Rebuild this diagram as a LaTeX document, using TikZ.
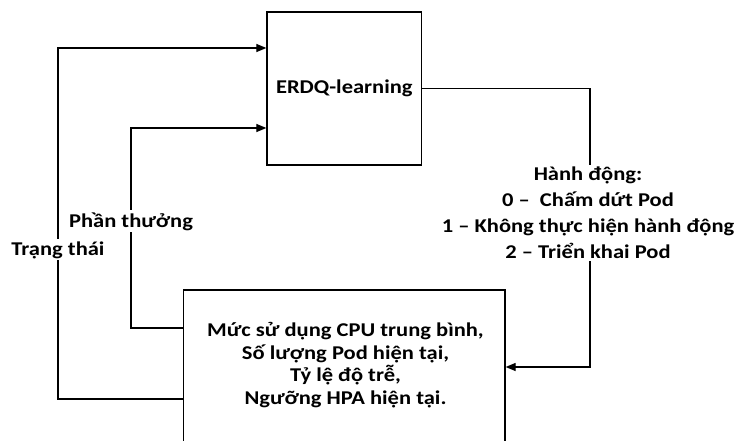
\documentclass[tikz,border=0pt]{standalone}
\usepackage{fontspec}
\setmainfont{Carlito}[FakeStretch=1.155]
\usetikzlibrary{arrows.meta}
\begin{document}
\begin{tikzpicture}[x=1pt,y=-1pt,
  box/.style={draw,line width=1.2pt,rectangle,inner sep=0pt},
  link/.style={line width=1.2pt},
  arr/.style={link,-{Triangle[length=10pt,width=8pt]}},
  lbl/.style={fill=white,inner sep=2pt,font=\fontsize{19.5}{26}\selectfont\bfseries},
]
\useasboundingbox (0,0) rectangle (734,441);
\begin{scope}
\clip (0,0) rectangle (734,441);

% agent and environment blocks
\node[box,minimum width=154.7pt,minimum height=153pt,
      font=\fontsize{19.5}{23}\selectfont\bfseries] (agent) at (344.3,88.5) {ERDQ-learning};
\node[box,anchor=north,minimum width=321.7pt,minimum height=200pt] (env) at (344.2,289.3) {};
\node[align=center,inner sep=0pt,font=\fontsize{19.5}{22.5}\selectfont\bfseries] (envtext) at (345.5,365)
  {Mức sử dụng CPU trung bình,\\Số lượng Pod hiện tại,\\Tỷ lệ độ trễ,\\Ngưỡng HPA hiện tại.};

% feedback loops
\draw[arr] (env.west |- 0,399) -| (58,48) -- (agent.west |- 0,48);
\draw[arr] (env.west |- 0,328) -| (131,128) -- (agent.west |- 0,128);
\draw[arr] (agent.east) -| (590,367) -- (env.east |- 0,367);

% connector labels
\node[lbl,anchor=base] (state) at (58,255) {Trạng thái};
\node[lbl,anchor=base] (reward) at (131,227) {Phần thưởng};
\node[lbl,align=center] (action) at (588,213)
  {Hành động:\\0 –\ \ Chấm dứt Pod\\1 – Không thực hiện hành động\\2 – Triển khai Pod};
\end{scope}
\end{tikzpicture}
\end{document}
